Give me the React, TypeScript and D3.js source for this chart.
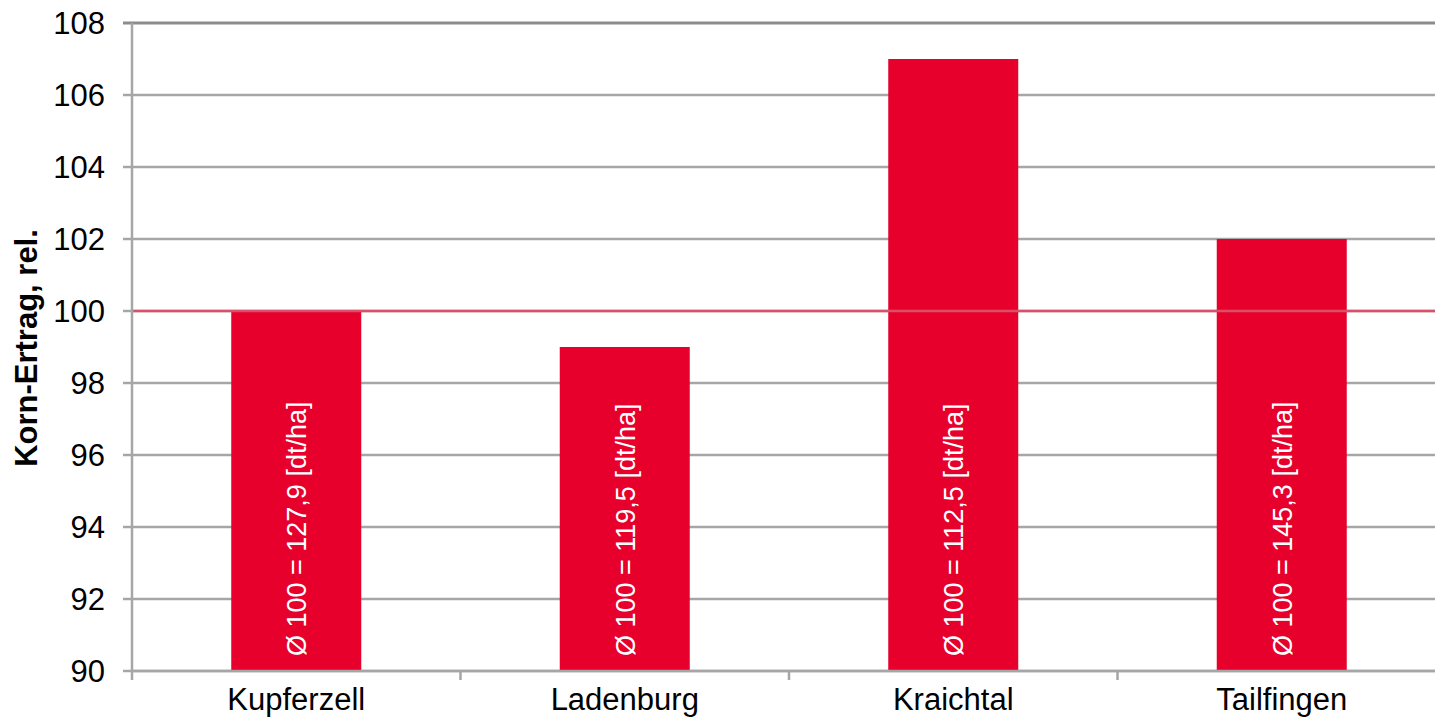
import React from "react";
import * as d3 from "d3";

const categories = ["Kupferzell", "Ladenburg", "Kraichtal", "Tailfingen"];
const values = [100, 99, 107, 102];
const barLabels = [
  "Ø 100 = 127,9 [dt/ha]",
  "Ø 100 = 119,5 [dt/ha]",
  "Ø 100 = 112,5 [dt/ha]",
  "Ø 100 = 145,3 [dt/ha]",
];
const yTicks = [90, 92, 94, 96, 98, 100, 102, 104, 106, 108];
const referenceValue = 100;

const W = 1435;
const H = 717;
const left = 132;
const right = 1447;
const top = 23;
const bottom = 671;

export default function App() {
  const x = d3.scaleBand<string>().domain(categories).range([left, left + 328.5 * 4]).paddingInner(0).paddingOuter(0);
  const y = d3.scaleLinear().domain([90, 108]).range([bottom, top]);
  const barW = 130;
  const font = "Liberation Sans, Arial, sans-serif";
  return (
    <svg width={W} height={H} style={{ position: "absolute", left: 0, top: 0, fontFamily: font }}>
      <rect width={W} height={H} fill="#fff" />
      {yTicks.map((t) => (
        <g key={t}>
          <line x1={123} x2={right} y1={y(t)} y2={y(t)} stroke={t === 108 ? "#8c8c8c" : "#a6a6a6"} strokeWidth={t === 108 ? 3 : 2.5} />
          <text x={105} y={y(t)} dy="0.36em" textAnchor="end" fontSize={31} fill="#000">{t}</text>
        </g>
      ))}
      {categories.map((c, i) => {
        const cx = (x(c) as number) + x.bandwidth() / 2;
        return (
          <g key={c}>
            <rect x={cx - barW / 2} y={y(values[i])} width={barW} height={bottom - y(values[i])} fill="#e6002b" />
          </g>
        );
      })}
      <line x1={left} x2={right} y1={y(referenceValue)} y2={y(referenceValue)} stroke="#d9506a" strokeWidth={2.5} />
      {categories.map((c, i) => {
        const cx = (x(c) as number) + x.bandwidth() / 2 + 10;
        return (
          <text key={c} transform={`translate(${cx},${656}) rotate(-90)`} fontSize={27} fill="#fff">{barLabels[i]}</text>
        );
      })}
      <line x1={left} x2={left} y1={top} y2={680} stroke="#a6a6a6" strokeWidth={2.5} />
      <line x1={left} x2={right} y1={bottom} y2={bottom} stroke="#a6a6a6" strokeWidth={2.5} />
      {categories.map((c) => (
        <line key={c} x1={(x(c) as number) + x.bandwidth()} x2={(x(c) as number) + x.bandwidth()} y1={bottom} y2={680} stroke="#a6a6a6" strokeWidth={2.5} />
      ))}
      {categories.map((c) => (
        <text key={c} x={(x(c) as number) + x.bandwidth() / 2} y={710} textAnchor="middle" fontSize={31} fill="#000">{c}</text>
      ))}
      <text transform={`translate(${37},${348}) rotate(-90)`} textAnchor="middle" fontSize={31} fontWeight="bold" fill="#000">Korn-Ertrag, rel.</text>
    </svg>
  );
}
